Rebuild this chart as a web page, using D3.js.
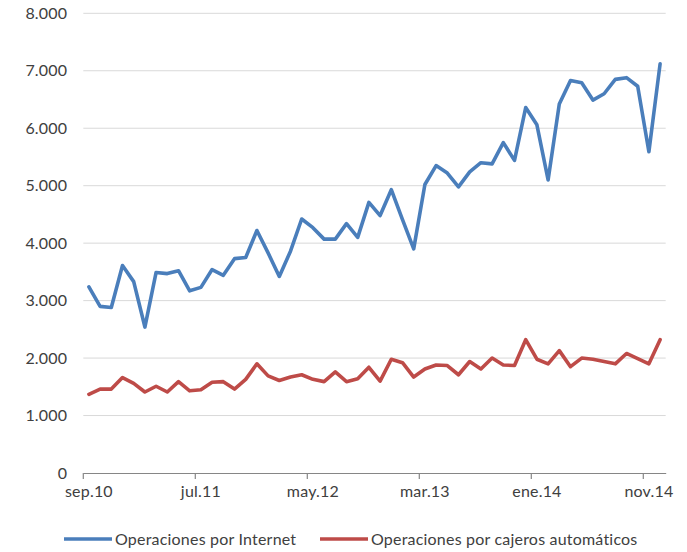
<!DOCTYPE html>
<html>
<head>
<meta charset="utf-8">
<script src="https://cdn.jsdelivr.net/npm/d3@7"></script>
<style>
    body { margin: 0; background: #fff; }
    text { font-family: Lato, "Open Sans", sans-serif; fill: #404040; letter-spacing: 0.2px; }
</style>
</head>
<body>
<div id="chart"></div>
<script>

var months = [
    "sep.10", "oct.10", "nov.10", "dic.10",
    "ene.11", "feb.11", "mar.11", "abr.11", "may.11", "jun.11", "jul.11", "ago.11", "sep.11", "oct.11", "nov.11", "dic.11",
    "ene.12", "feb.12", "mar.12", "abr.12", "may.12", "jun.12", "jul.12", "ago.12", "sep.12", "oct.12", "nov.12", "dic.12",
    "ene.13", "feb.13", "mar.13", "abr.13", "may.13", "jun.13", "jul.13", "ago.13", "sep.13", "oct.13", "nov.13", "dic.13",
    "ene.14", "feb.14", "mar.14", "abr.14", "may.14", "jun.14", "jul.14", "ago.14", "sep.14", "oct.14", "nov.14", "dic.14"
];

var tickLabels = ["sep.10", "jul.11", "may.12", "mar.13", "ene.14", "nov.14"];

var yTicks = [0, 1000, 2000, 3000, 4000, 5000, 6000, 7000, 8000];

// operaciones por internet
var internet = [
    3240, 2900, 2880, 3610, 3330, 2540, 3490, 3470, 3520, 3170, 3230, 3540, 3440,
    3730, 3750, 4220, 3830, 3420, 3860, 4420, 4270, 4070, 4070, 4340, 4100, 4710,
    4480, 4930, 4410, 3900, 5020, 5350, 5220, 4980, 5240, 5400, 5380, 5750, 5440,
    6360, 6060, 5100, 6420, 6830, 6790, 6490, 6600, 6850, 6880, 6730, 5590, 7120
];

// operaciones por cajeros automaticos
var cajeros = [
    1370, 1460, 1460, 1660, 1560, 1410, 1510, 1410, 1590, 1430, 1450, 1580, 1590,
    1460, 1630, 1900, 1690, 1610, 1670, 1710, 1630, 1590, 1760, 1590, 1640, 1840,
    1600, 1980, 1920, 1670, 1810, 1880, 1870, 1710, 1940, 1810, 2000, 1880, 1870,
    2320, 1980, 1900, 2130, 1850, 2000, 1980, 1940, 1900, 2080, 1990, 1900, 2320
];

var series = [
    {name: "Operaciones por Internet", values: internet, color: "#4a7ebb"},
    {name: "Operaciones por cajeros automáticos", values: cajeros, color: "#be4b48"}
];

var width = 687,
    height = 552;

var plot = {left: 83.3, right: 665.7, top: 13.3, bottom: 473};

var locale = d3.formatLocale({decimal: ",", thousands: ".", grouping: [3], currency: ["", "€"]});
var fmt = locale.format(",d");

// init SVG
var svg = d3.select("#chart").append("svg")
    .attr("width", width)
    .attr("height", height);

var x = d3.scaleBand()
    .domain(months)
    .range([plot.left, plot.right])
    .padding(0);

var y = d3.scaleLinear()
    .domain([0, 8000])
    .range([plot.bottom, plot.top]);

var bw = x.bandwidth();

// gridlines
svg.append("g")
    .selectAll("line")
    .data(yTicks.filter(function (d) { return d > 0; }))
    .enter().append("line")
    .attr("x1", plot.left)
    .attr("x2", plot.right)
    .attr("y1", function (d) { return y(d); })
    .attr("y2", function (d) { return y(d); })
    .attr("stroke", "#d9d9d9")
    .attr("stroke-width", 1);

// y axis labels
var yAxis = d3.axisLeft(y)
    .tickValues(yTicks)
    .tickFormat(fmt)
    .tickSize(0)
    .tickPadding(16);

svg.append("g")
    .attr("transform", "translate(" + plot.left + ",0)")
    .call(yAxis)
    .call(function (g) { g.select(".domain").remove(); })
    .selectAll("text")
    .style("font-size", "16px")
    .attr("fill", "#404040");

// x axis
var xAxis = d3.axisBottom(x)
    .tickValues(tickLabels)
    .tickSize(0)
    .tickPadding(13);

var gx = svg.append("g")
    .attr("transform", "translate(0," + plot.bottom + ")")
    .call(xAxis);

gx.select(".domain")
    .attr("stroke", "#868686")
    .attr("stroke-width", 1.2);

gx.selectAll("text")
    .style("font-size", "16px")
    .attr("fill", "#404040");

// tick marks sit between categories
gx.selectAll(".between")
    .data(tickLabels)
    .enter().append("line")
    .attr("class", "between")
    .attr("x1", function (d) { return x(d); })
    .attr("x2", function (d) { return x(d); })
    .attr("y1", 0)
    .attr("y2", 6)
    .attr("stroke", "#868686")
    .attr("stroke-width", 1.2);

// lines
var line = d3.line()
    .x(function (d, i) { return x(months[i]) + bw / 2; })
    .y(function (d) { return y(d); });

svg.append("g")
    .selectAll("path")
    .data(series)
    .enter().append("path")
    .attr("d", function (d) { return line(d.values); })
    .attr("fill", "none")
    .attr("stroke", function (d) { return d.color; })
    .attr("stroke-width", 3.6)
    .attr("stroke-linejoin", "round")
    .attr("stroke-linecap", "round");

// legend
var legendX = [64, 320];

var legend = svg.append("g")
    .selectAll("g")
    .data(series)
    .enter().append("g")
    .attr("transform", function (d, i) { return "translate(" + legendX[i] + ",539)"; });

legend.append("line")
    .attr("x1", 0)
    .attr("x2", 48)
    .attr("stroke", function (d) { return d.color; })
    .attr("stroke-width", 3.6);

legend.append("text")
    .attr("x", 51)
    .attr("dy", "0.35em")
    .style("font-size", "16px")
    .text(function (d) { return d.name; });

</script>
</body>
</html>
